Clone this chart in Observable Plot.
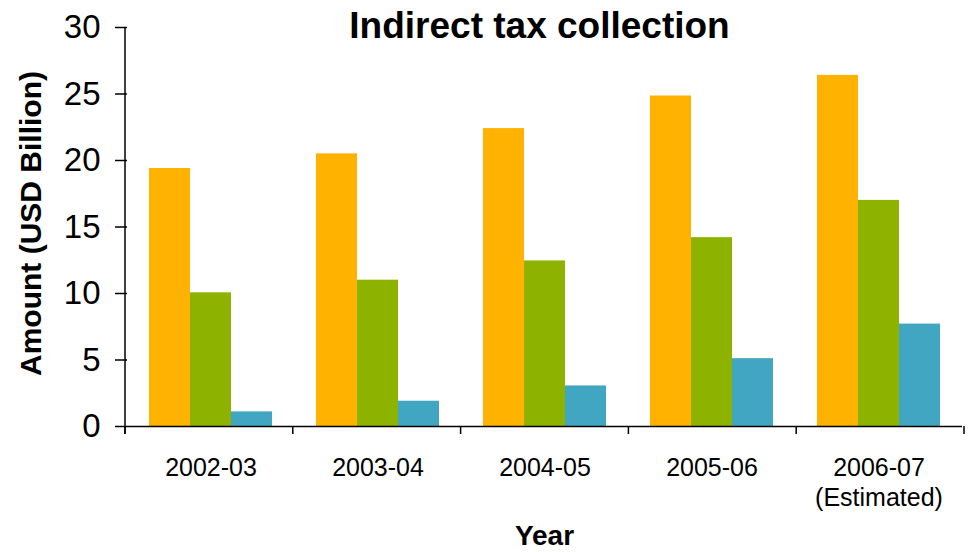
<!DOCTYPE html>
<html><head><meta charset="utf-8">
<script src="https://cdn.jsdelivr.net/npm/d3@7"></script>
<script src="https://cdn.jsdelivr.net/npm/@observablehq/plot@0.6"></script>
<style>
html,body{margin:0;padding:0;background:#fff;}
#chart svg{display:block;}
</style></head><body><div id="chart"></div>
<script>
const years = ["2002-03", "2003-04", "2004-05", "2005-06", "2006-07"];
const yearLabels = ["2002-03", "2003-04", "2004-05", "2005-06", "2006-07\n(Estimated)"];
const seriesNames = ["Excise duty", "Customs duty", "Service tax"];
const excise = [19.4, 20.5, 22.4, 24.85, 26.4];
const customs = [10.05, 11.0, 12.45, 14.2, 17.0];
const serviceTax = [1.1, 1.9, 3.05, 5.1, 7.7];
const colors = ["#FFB200", "#8DB300", "#41A6C1"];
const yTicks = [0, 5, 10, 15, 20, 25, 30];
const title = "Indirect tax collection";
const yLabel = "Amount (USD Billion)";
const xLabel = "Year";

const seriesValues = [excise, customs, serviceTax];
const data = years.flatMap((yr, i) => seriesNames.map((s, j) => ({year: yr, series: s, value: seriesValues[j][i]})));

const FONT = "'Liberation Sans', Arial, Helvetica, sans-serif";

const chart = Plot.plot({
  width: 969, height: 552,
  marginLeft: 125, marginRight: 5, marginTop: 27, marginBottom: 126,
  style: {fontFamily: FONT, background: "white", color: "black", overflow: "visible"},
  fx: {domain: years, padding: 0, axis: null},
  x: {domain: seriesNames, paddingInner: 0, paddingOuter: 0.5, axis: null},
  y: {domain: [0, 30], axis: null},
  color: {domain: seriesNames, range: colors},
  marks: [
    Plot.barY(data, {fx: "year", x: "series", y: "value", fill: "series"}),
    Plot.ruleY([0], {stroke: "black", strokeWidth: 1.5}),
    Plot.axisY({ticks: yTicks, tickSize: 12, tickPadding: 15, fontSize: 33, strokeWidth: 1.5, label: null}),
    Plot.axisFx({anchor: "bottom", tickSize: 0, tickPadding: 28, fontSize: 25, lineHeight: 1.2,
      tickFormat: (d) => yearLabels[years.indexOf(d)], label: null})
  ]
});
document.getElementById("chart").appendChild(chart);

const svg = d3.select(chart);
const fx = chart.scale("fx");
const ys = chart.scale("y");
const fxBand = d3.scaleBand(fx.domain, fx.range);
const yScale = d3.scaleLinear(ys.domain, ys.range);
const y0 = yScale(0), yTop = yScale(30);
const bounds = years.map(d => fxBand(d)).concat([fxBand(years[years.length - 1]) + fxBand.bandwidth()]);

// y axis line
svg.append("line")
  .attr("x1", bounds[0]).attr("x2", bounds[0])
  .attr("y1", yTop).attr("y2", y0 + 8)
  .attr("stroke", "black").attr("stroke-width", 1.5);
// category boundary ticks
svg.append("g").selectAll("line").data(bounds).join("line")
  .attr("x1", d => d).attr("x2", d => d)
  .attr("y1", y0).attr("y2", y0 + 8)
  .attr("stroke", "black").attr("stroke-width", 1.5);

const cx = (fx.range[0] + fx.range[1]) / 2;
svg.append("text").text(title)
  .attr("x", cx - 5).attr("y", 38)
  .attr("text-anchor", "middle")
  .attr("font-family", FONT).attr("font-weight", "bold").attr("font-size", 37);
svg.append("text").text(yLabel)
  .attr("transform", `translate(41,${(y0 + yTop) / 2 - 3}) rotate(-90)`)
  .attr("text-anchor", "middle")
  .attr("font-family", FONT).attr("font-weight", "bold").attr("font-size", 30);
svg.append("text").text(xLabel)
  .attr("x", cx).attr("y", 545)
  .attr("text-anchor", "middle")
  .attr("font-family", FONT).attr("font-weight", "bold").attr("font-size", 28);
</script>
</body></html>
